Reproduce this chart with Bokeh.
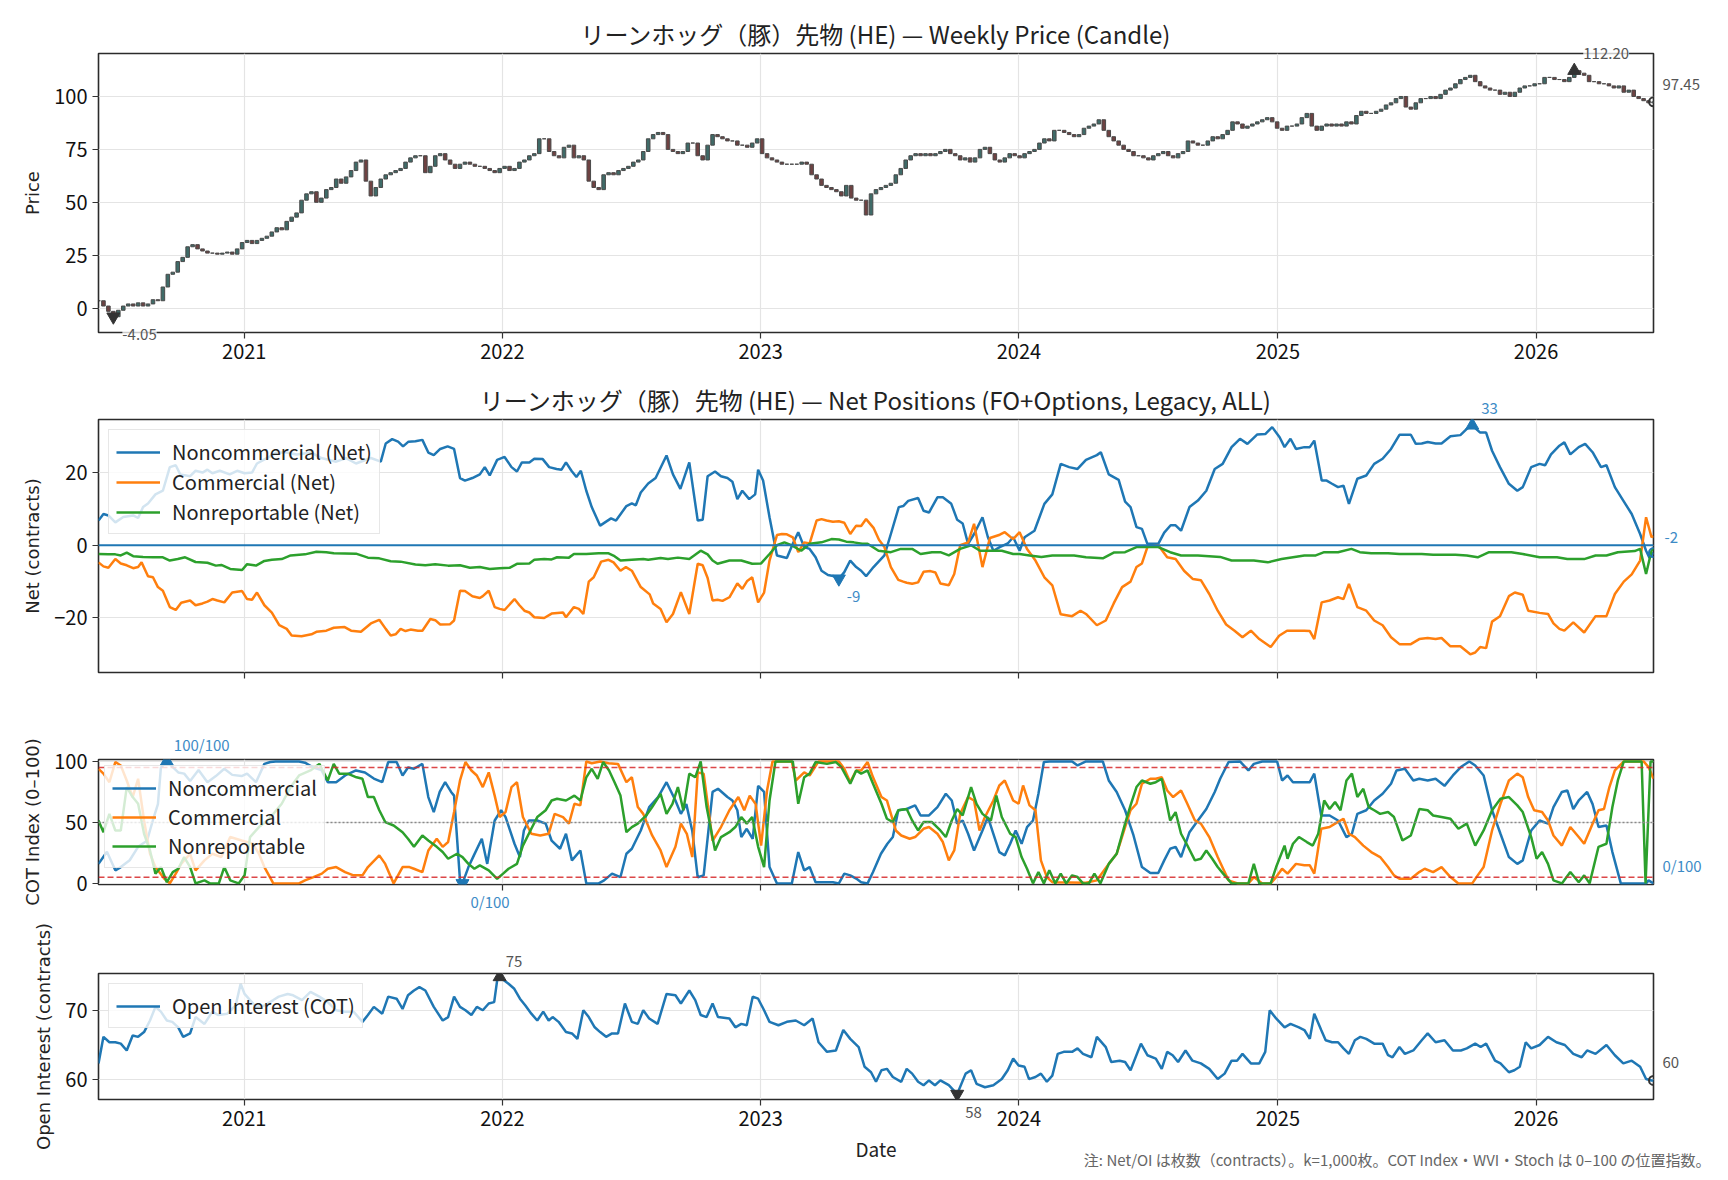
import datetime as dt
from bokeh.plotting import figure
from bokeh.layouts import column
from bokeh.models import (FixedTicker, DatetimeTickFormatter, Label, Legend, LegendItem,
                          Span, Range1d)
from bokeh.embed import file_html
from bokeh.resources import INLINE

# ---------------- data ----------------
START = dt.datetime(2020, 6, 9)          # week 0 (weekly data, Tuesdays)
N_WEEKS = 314
YEARS = [2021, 2022, 2023, 2024, 2025, 2026]

TITLE_PRICE = "リーンホッグ（豚）先物 (HE) — Weekly Price (Candle)"
TITLE_NET = "リーンホッグ（豚）先物 (HE) — Net Positions (FO+Options, Legacy, ALL)"
NOTE = "注: Net/OI は枚数（contracts）。k=1,000枚。COT Index・WVI・Stoch は 0–100 の位置指数。"

# weekly closes, week 0 .. 314
CLOSE = [
    3.5, 1.0, -1.5, -4.05, -1.0, 1.0, 2.0, 1.0, 2.5, 1.0,
    2.0, 4.0, 3.5, 10.0, 16.0, 17.0, 22.0, 24.0, 29.0, 30.0,
    28.0, 27.0, 26.0, 26.0, 25.5, 26.0, 26.5, 25.5, 28.0, 31.0,
    32.0, 30.5, 32.0, 33.0, 34.0, 36.0, 38.0, 37.0, 41.0, 43.0,
    45.0, 51.0, 54.0, 55.0, 50.0, 52.0, 56.0, 57.0, 61.0, 59.0,
    62.0, 65.0, 69.0, 70.0, 60.0, 53.0, 57.0, 61.0, 63.0, 64.0,
    65.0, 66.0, 69.0, 71.0, 72.0, 72.0, 64.0, 67.0, 72.0, 73.0,
    70.0, 68.0, 66.0, 68.0, 69.0, 68.0, 67.0, 67.0, 66.0, 65.0,
    64.0, 66.0, 67.0, 65.0, 66.0, 69.0, 70.0, 72.0, 73.0, 80.0,
    80.0, 74.0, 72.0, 71.0, 76.0, 77.0, 71.0, 72.0, 70.0, 60.0,
    57.0, 56.0, 63.0, 64.0, 63.0, 65.0, 66.0, 67.0, 69.0, 70.0,
    74.0, 80.0, 82.0, 83.0, 82.0, 75.0, 74.0, 73.0, 74.0, 78.0,
    78.0, 72.0, 70.0, 77.0, 82.0, 81.0, 80.0, 79.0, 79.0, 77.0,
    77.0, 76.0, 78.0, 80.0, 73.0, 71.0, 70.0, 69.0, 68.0, 68.0,
    68.0, 68.0, 69.0, 68.0, 63.0, 61.0, 58.0, 57.0, 56.0, 55.0,
    53.0, 58.0, 52.0, 51.0, 51.0, 44.0, 54.0, 56.0, 57.0, 58.0,
    59.0, 63.0, 66.0, 70.0, 72.0, 73.0, 72.0, 73.0, 72.0, 73.0,
    74.0, 75.0, 73.0, 72.0, 70.0, 71.0, 69.0, 71.0, 75.0, 76.0,
    73.0, 70.0, 69.0, 71.0, 73.0, 72.0, 71.0, 73.0, 74.0, 75.0,
    78.0, 80.0, 79.0, 84.0, 84.0, 83.0, 82.0, 81.0, 82.0, 85.0,
    86.0, 87.0, 89.0, 84.0, 81.0, 79.0, 77.0, 75.0, 74.0, 72.0,
    72.0, 71.0, 70.0, 72.0, 73.0, 74.0, 72.0, 71.0, 73.0, 74.0,
    79.0, 78.0, 77.0, 77.0, 79.0, 81.0, 80.0, 82.0, 84.0, 88.0,
    87.0, 85.0, 86.0, 87.0, 88.0, 89.0, 90.0, 88.0, 85.0, 84.0,
    86.0, 86.0, 87.0, 90.0, 92.0, 86.0, 84.0, 86.0, 87.0, 86.0,
    87.0, 86.0, 88.0, 87.0, 91.0, 93.0, 92.0, 92.0, 93.0, 94.0,
    96.0, 97.0, 99.0, 100.0, 95.0, 94.0, 97.0, 99.0, 99.0, 100.0,
    99.0, 101.0, 103.0, 104.0, 106.0, 108.0, 109.0, 110.0, 107.0, 105.0,
    104.0, 103.0, 103.0, 101.0, 102.0, 100.0, 102.0, 104.0, 105.0, 105.0,
    106.0, 106.0, 109.0, 109.0, 108.0, 108.0, 107.0, 109.0, 112.2, 111.0,
    110.0, 107.0, 107.0, 106.0, 106.0, 105.0, 104.0, 105.0, 102.0, 103.0,
    100.0, 99.0, 98.0, 97.0, 97.45,
]

# (week, value) points
NC_NET = [(0,6.8),(1,8.6),(2,8.2),(3.4,6.3),(5,7.8),(7,8.2),(8,7.5),(9,10.5),(10,11.5),(11.5,14),(13,15),
    (14.4,21.5),(15.6,22),(16.5,19.5),(18.5,19),(19.6,20.5),(21,20),(22,20.8),(23,19.8),(24.5,20.5),(26.5,19.5),
    (28,20.5),(29.5,19.8),(31,20),(32,22.5),(34,24),(36,25.5),(38,25.5),(40,25),(43,25.5),(45,24),(48,23),(50,24),
    (52,22.5),(55,24),(57,23),(58,28),(59.3,29.2),(60.5,28.5),(61.5,27.2),(62.6,28.5),(64,28.6),(65.4,29),(66.6,25.5),
    (67.7,24.8),(69,26.5),(70.5,27.2),(71.8,26.5),(73,18.5),(74,17.8),(75.5,18.5),(77,19.5),(78,21.5),(79,19.2),
    (80.5,23.5),(82,24.3),(83.4,21.5),(84.5,20.3),(85.5,22.8),(87,22.8),(88,23.8),(89.7,23.7),(91,21.5),(92.5,21),
    (93.5,20.8),(94.4,22.8),(95.5,20.5),(96.5,18.8),(97.4,20.5),(98.5,15),(99.6,10.5),(101.3,5.4),(102.5,6.5),
    (103.5,7.4),(104.5,6.8),(106.6,10.8),(107.7,11.5),(108.5,11),(109.5,14.5),(111,17),(112.5,18.5),(114.7,24.7),
    (116,19.5),(117.5,15.5),(119.3,22.8),(121,6.8),(122,7),(123,19),(124.5,20.3),(125.7,19),(127,18.5),(128,17.5),
    (129,12.7),(130,15),(131.4,12.7),(132.6,14),(133.2,20.8),(134.2,17.8),(135.5,7.7),(137,-2.8),(139,-3.5),
    (140.2,0.4),(141.3,3.6),(142.5,-0.5),(143.6,-1),(144.8,-3.3),(146,-7),(147.3,-8.2),(148.6,-8.5),(149.5,-9.2),
    (150.6,-7.4),(151.8,-4.2),(153,-6),(154,-7),(155,-8.5),(156.5,-6),(158.7,-2.8),(160,3.1),(161.6,10.5),
    (162.5,10.8),(163.5,12.2),(165.5,13),(166.6,9.5),(167.7,9),(169.4,13.2),(170.5,13.2),(172.2,11.4),(173.4,7),
    (174.5,6),(175.6,0.4),(176.8,3.1),(178.5,7.7),(179.6,2.2),(180.7,-1.5),(182,-0.5),(183.6,0.5),(184.7,2.2),
    (186,-1.5),(187,2.2),(189,4),(191,11.4),(192.6,14),(194.3,22.4),(196,21.5),(197.7,21),(199.4,23.5),(201.6,24.8),
    (202.4,25.6),(204,19.5),(206,18),(207.3,12),(208.4,10.5),(209.6,5),(210.7,4.5),(211.8,0.4),(214,0.4),(215.2,3.5),
    (216.5,5.5),(217.5,5.5),(218.6,4),(220.3,10.5),(222,12.3),(223.7,15),(225.4,21),(227,22.4),(228.8,27),
    (230.5,29.3),(232,27.9),(234,30.5),(235.6,30.6),(237,32.5),(238.5,29.7),(239.5,27),(240.7,29.3),(241.8,26.5),
    (243.5,27),(244.6,27),(245.5,28.8),(247,17.8),(248,17.8),(249,17),(250.3,16),(251.4,16.4),(252.5,11.4),
    (254.2,18.3),(256,19.2),(257.6,22.4),(259.3,23.8),(261,26.5),(262.7,30.4),(265,30.4),(266,27.9),(267.2,28),
    (268.4,28.4),(270,28),(271.2,28),(273,30),(275,30.3),(276.3,32),(277.4,33),(279,31),(280.2,31),(281.4,26),
    (283,21.5),(284.8,16.9),(286.5,15),(287.6,16),(289.3,21.5),(291,22.4),(292.1,22),(293.3,25),(295,27.4),
    (296,28.3),(297.2,25),(298.9,27),(300.2,27.9),(301.7,25.6),(303.4,21.5),(304.5,22),(306.2,16),(307.9,12.3),
    (309.6,8.6),(311.3,3.1),(312.5,-1.5),(313.2,-3.5),(314,-2)]

CM_NET = [(0,-4.7),(1,-5.8),(2,-6.2),(3.4,-3.8),(4.5,-5),(5.7,-5.5),(7,-6.3),(8,-6),(8.7,-4.7),(10,-8.5),(11,-8.8),
    (12,-11.5),(13,-12.5),(14.4,-17),(15.6,-17.8),(16.7,-15.8),(18.5,-15.2),(19.6,-16.5),(21,-16),(22,-15.5),
    (23,-14.8),(24,-15.2),(25.4,-15.7),(27,-13),(29,-12.6),(30,-14.8),(31,-15),(32,-13),(33.5,-16.5),(35,-18.5),
    (36.5,-22),(38,-23),(39,-24.8),(41,-25),(43,-24.5),(44,-23.8),(46,-23.5),(47.5,-22.7),(49.7,-22.5),(51,-23.5),
    (53,-23.8),(55,-21.5),(56.7,-20.5),(58,-23),(59,-24.8),(60,-24.5),(61,-23),(62,-23.6),(63,-23.2),(64.5,-23.5),
    (65.4,-23.5),(67,-20.3),(68,-20.6),(69,-21.8),(71,-21.7),(71.8,-20.7),(73,-12.5),(74,-12.6),(75.5,-14),
    (77,-14.5),(77.6,-14),(78.8,-12.5),(80,-17),(81,-17.5),(82,-17.8),(84,-14.8),(85,-16.5),(86,-18),(87,-18.5),
    (88,-19.8),(90,-20),(91.5,-18.8),(93.8,-18.5),(94.4,-19.8),(96,-17),(97,-17.5),(97.9,-18.9),(99,-10),(100,-8.8),
    (101.5,-4.5),(103,-4),(104,-4.7),(105.4,-7),(106.5,-6),(107.7,-7),(109.5,-11.5),(111.3,-13.5),(112,-16),
    (113.5,-17.5),(114.7,-21.2),(116,-18.9),(117.6,-12.9),(119.3,-18.9),(121,-5.1),(122,-5.5),(123,-9),(124,-15.2),
    (125,-15),(126,-15.3),(127.4,-14.3),(129,-10.5),(130,-12),(131,-9.8),(132,-8.8),(133.2,-15.7),(134.4,-13),
    (135.5,-4.2),(137,2.8),(138,3.1),(139,3),(140.2,2.2),(141.3,-1.9),(142.5,0.8),(143.6,0.5),(145,6.8),(146,7.2),
    (147,6.8),(148.3,6.5),(149.5,6.6),(150.6,6.2),(151.8,3.1),(153,5.4),(154,5.3),(155,7.2),(156.5,4.8),(157.6,1.5),
    (158.7,-0.5),(160,-6),(161.5,-9.5),(162.5,-10),(163.2,-10.3),(164.3,-10.6),(165.5,-10.2),(166.6,-7.3),(168,-7.1),
    (169,-7.5),(170,-10.5),(171.7,-11),(172.8,-7.9),(174,0),(175.6,0.8),(176.8,5.9),(177.5,1),(178.5,-6),(180,2),
    (182,2.9),(183,3.6),(184.7,1.7),(186,3.6),(187.5,-1),(189.2,-4.2),(191,-8.8),(192.6,-11),(194.3,-19),
    (196.6,-19.5),(198.3,-18),(199.4,-18.9),(201.6,-22),(203.4,-20.7),(205,-16),(206.7,-11.5),(208.4,-10),
    (209.6,-6),(210.7,-5),(211.8,-0.5),(214,0),(215.8,-3.3),(217.5,-3.8),(219.2,-7),(221,-9.3),(222.6,-9.6),
    (224.3,-13.4),(226,-18),(227.7,-21.8),(229.4,-23.5),(231,-25.3),(232.7,-23.5),(234.4,-25.8),(236.7,-28),
    (238.4,-24.9),(240,-23.5),(241.8,-23.5),(243.5,-23.5),(244.6,-23.6),(245.5,-25.8),(247,-15.7),(248.6,-15.2),
    (250.3,-14.3),(251.4,-14.8),(252.5,-10.6),(254.2,-17),(256,-18),(257.6,-20.7),(259.3,-22),(261,-25.3),
    (262.7,-27.2),(265,-27.2),(266.7,-25.8),(268.4,-25.5),(270,-25.8),(271.2,-25.5),(273,-27.8),(275,-27.8),
    (277,-30),(278,-29.5),(279,-28),(280.2,-28.3),(281.4,-21),(283,-19.5),(284.8,-14),(286,-13),(287.6,-13.6),
    (288.7,-18),(291,-18.6),(292.7,-18.9),(293.8,-21.5),(295,-23),(296,-23.5),(297.8,-21.2),(300,-24),(302.3,-19.5),
    (304.5,-19.5),(306.2,-13.4),(308,-10),(309.6,-8),(311.3,-4.2),(312.5,7.7),(313.6,2.2),(314,2.5)]

NR_NET = [(0,-2.4),(2,-2.5),(3.4,-2.5),(4.5,-2.8),(5.7,-2),(7,-3),(9,-3.2),(11,-3.3),(13,-3.3),(14.4,-4.2),(16,-3.8),
    (17.5,-3.3),(19.6,-4.6),(22,-4.8),(23.7,-5.6),(24.8,-5.4),(26.6,-6.5),(29,-6.8),(30,-5.2),(31.8,-5.6),(33.5,-4.3),
    (35,-4),(37,-3.8),(38.8,-2.8),(41.7,-2.5),(44,-1.8),(46,-1.9),(47.5,-2.2),(52,-2.3),(54.4,-3.4),(56.7,-3.6),
    (59,-4.4),(61,-4.5),(64,-5.3),(66,-5.5),(68,-5.2),(70.6,-5.6),(73,-5.5),(75,-6.2),(77,-6),(79,-6.5),(81,-6.3),
    (83,-6.2),(84.5,-5.1),(87,-5),(88,-4),(90,-3.8),(91.5,-3.9),(92.6,-3.3),(95,-3.4),(96,-2.4),(98.5,-2.4),
    (101,-2.2),(103,-2.2),(104.2,-3),(105.4,-4.2),(107.7,-4),(110,-3.8),(111,-4),(113.5,-3.5),(115,-3.8),(117,-3.4),
    (119.3,-3.8),(121.6,-1.5),(123,-2.5),(124,-4.2),(125,-5.1),(127.4,-4.2),(129.8,-4.2),(132,-5.1),(133.8,-5),
    (135.5,-2.4),(137,0),(138.5,0.8),(139.9,0),(141.9,-1.5),(143.6,0.4),(146,0.8),(148,1.7),(149.5,1.6),(151,1),
    (152.5,0.8),(154.2,0.4),(155.3,0.4),(157.5,-1.5),(160,-1.9),(162,-1),(164.3,-1),(166,-2.4),(168.3,-1.9),
    (170,-1.9),(171.7,-2.8),(174,-1),(176.2,0),(178,-1.5),(180.2,-1.5),(182.4,-1.5),(184.7,-2.4),(186,-2.4),
    (188,-2.8),(190.4,-3.2),(192.6,-2.8),(197,-2.8),(199.4,-3.3),(202.8,-3.6),(205,-2),(207.3,-1.9),(209.6,-0.5),
    (214,-0.5),(216.4,-1.9),(218.6,-2.8),(222,-2.8),(226.5,-3.2),(228.8,-4.2),(233.3,-4.2),(236.1,-4.7),
    (238.9,-3.8),(241.2,-3.3),(243.5,-2.8),(245.8,-2.8),(247.5,-1.9),(250.3,-1.9),(253,-1),(254.7,-1.9),(257,-2.2),
    (260.4,-2.2),(262.7,-2.4),(267.2,-2.4),(269.5,-2.6),(274,-2.6),(276.3,-2.8),(278.5,-3.3),(280.8,-1.9),
    (285.3,-1.9),(287.6,-2.4),(291,-3.3),(294.5,-3.3),(296.6,-3.8),(300,-3.8),(302.3,-2.8),(304.5,-2.8),
    (306.8,-1.9),(310.2,-1.6),(311.3,-1),(312.5,-7.9),(313.6,-1.5),(314,-0.8)]

NC_IDX = [(0,16),(1.7,26),(3.4,10.7),(4.5,13.4),(6.3,19),(8,30),(9.8,35),(11,52),(12,65),(12.6,95),(13.8,100),
    (16.1,91),(17.3,90),(18.5,84),(20.2,93),(22,83),(23.7,88),(25.4,94),(27,89),(28.9,88),(30,90),(31.8,83),(33.5,98),
    (34.7,99.5),(35.8,100),(40.5,100),(41.7,99),(43.4,95),(45,93),(46.3,83),(48,83),(49.8,88.5),(52,92.6),(53.8,91),
    (55.6,86),(57.3,83),(58.5,99.5),(60.2,99.5),(61.4,88.5),(62.5,95),(63.7,94),(65.4,98),(66.6,70.8),(67.7,58.5),
    (68.9,75),(70,83),(71.2,75),(71.8,72),(73,2.5),(73.5,0),(74.7,13.4),(75.8,23),(77.4,36.6),(78.5,16),(80,51.6),
    (81.3,60),(82.2,54.4),(84,32.5),(85.1,21.6),(85.9,43.4),(86.9,51.6),(88.6,51.6),(90.3,49),(91.5,35),(93.2,28.4),
    (94.4,40.7),(95.6,18.9),(97.3,27),(98.5,0),(101,0),(102.1,2.5),(103.7,8),(105.4,5.2),(106.6,24.3),(107.7,28.4),
    (109.5,43.4),(111.2,62.6),(113,70.8),(114.7,83),(116.5,68),(117.6,57),(118.7,65),(119.9,43),(121,5),(122.2,6.6),
    (124,75),(125.1,77.6),(127,70.8),(128,68),(129,60),(129.8,38),(130.9,44.8),(132.1,36.6),(133.2,80),(134.4,75),
    (135.5,13.4),(137,0),(140,0),(141.3,25.7),(142.5,10.7),(143.6,13.4),(144.8,1),(148.3,1),(149.5,0),(150.6,8),
    (151.8,6.6),(153,4),(154,1),(155.3,0),(156.4,9.3),(158,24.3),(159.3,32.5),(160.4,38),(161.5,60),(163.2,61),
    (164.9,64),(166,55.7),(167.7,55.7),(169.4,62.6),(171.1,73.5),(172.3,68),(173.4,49),(174.5,51.6),(175.6,40.7),
    (176.8,27),(178.5,43.4),(179.6,54.4),(180.7,40.7),(181.9,25.7),(183,23),(184.1,32.5),(185.2,43.4),(186.4,32.5),
    (187.5,46.2),(188.7,51.6),(189.8,73.5),(190.9,99.5),(192,100),(196.6,100),(197.7,96.7),(199.4,100),(202.8,100),
    (204,84.4),(205.6,75),(207.3,60),(209,39.3),(210.7,13.4),(212.4,8.5),(214,8.5),(215.2,18.9),(216.4,28.4),
    (217.5,30),(218.6,21.6),(220.3,42),(222,51.6),(223.7,61),(225.4,75),(226.5,85.8),(228.2,99.5),(230.5,100),
    (232.2,92.6),(233.3,98),(235,100),(238,100),(239,84.4),(240.1,88.5),(241.2,83),(243.5,83),(244.6,83),(245.5,90),
    (246.9,55.7),(248.6,55.7),(250.3,51.6),(252,38),(253.1,40.7),(254.2,57),(256,60),(257.6,68),(259.3,73.5),
    (261,81.7),(262.1,92.6),(263.8,94),(265.5,84.4),(266.7,85.8),(268.4,84.4),(270,85.8),(271.8,80),(273.5,88.5),
    (275.1,95.4),(276.8,100),(278,96.7),(279.7,88.5),(281.4,60),(283.1,40.7),(284.8,21.6),(286.5,16),(287.6,18.9),
    (289.3,43.4),(291,51.6),(292.7,49),(293.8,62.6),(295.5,75),(296.6,76.2),(297.8,61),(298.9,68),(300.6,75),
    (301.7,65),(302.9,46.2),(304.5,47.5),(305.7,25.7),(307.4,0),(312.5,0),(313,2.5),(314,0)]

CM_IDX = [(0,94),(1,90),(2.2,83),(3.4,99.5),(4.5,96.7),(5.7,84.4),(6.9,70.8),(8,85.8),(9.2,51.6),(10.4,24.3),
    (11.5,13.4),(13.3,3.8),(14.4,0),(15.6,8),(16.7,16),(18.5,24.3),(19.6,10.7),(21.4,18.9),(23,24.3),(24.8,21.6),
    (26.6,38),(28.9,35.2),(31.2,32.5),(32.4,24.3),(33.5,13.4),(35.3,0),(40.5,0),(41.7,2.5),(43.4,5.2),(45.1,8),
    (46.3,12),(48,13.4),(49.8,9.3),(51.5,6.6),(53.3,6.6),(54.4,13.4),(56.7,23),(57.9,16),(59.6,0),(61.4,13.4),
    (62.8,13.4),(63.7,12),(65.4,9.3),(66.6,27),(68.3,36.6),(69.5,30),(70.6,33.9),(71.8,58.5),(73,84.4),(74.1,99.5),
    (75.3,92.6),(76.4,88.5),(77.6,79),(78.8,91),(80,72),(81,54.4),(82.2,58.5),(83.4,79),(84.5,83),(85.7,54.4),
    (87.4,40.7),(89.2,39.3),(90.9,40.7),(92.1,57),(93.8,54.4),(95,49),(96.1,65.3),(97.3,64),(98.5,100),(99.6,98.5),
    (101.3,100),(103,98.5),(104.9,98),(106.6,83),(107.7,87),(108.9,62.6),(110,57),(111.8,39.3),(113.5,27),
    (114.7,13.4),(116.5,30),(117.6,49),(118.8,40.7),(119.9,21.6),(121,91),(122.2,90),(124,35),(125.7,46.2),
    (127.4,60),(129.2,70.8),(130.4,60),(131.5,72),(132.7,65),(133.8,31),(135,76.2),(136.1,100),(140,100),
    (140.8,84.4),(142.5,91),(143.6,88.5),(145.4,100),(149.5,100),(150.6,94),(151.8,83),(153,92.6),(154,92.6),
    (155.3,99.5),(156.4,87),(158.1,70.8),(159.2,68),(161,43.4),(162.1,39.3),(163.8,36.6),(164.9,38),(166.6,44.8),
    (167.7,46.2),(169.4,40.7),(170.5,33.9),(171.7,18.9),(172.8,27),(174,57),(175.6,70.8),(176.8,68),(177.9,43.4),
    (179,54.4),(180.7,68),(181.9,80.3),(183,84.4),(184.7,68),(185.8,65.3),(186.7,80.3),(188,64),(189.2,60),
    (190.3,18.9),(191.5,5.2),(192.6,1),(199.4,0.5),(201.6,2.5),(204,16),(205.6,24.3),(207.3,46.2),(208.4,60),
    (209.6,65.3),(210.7,81.7),(212.4,85.8),(213.5,85.8),(214.7,87),(215.8,76.2),(217,70.8),(218.6,76.2),
    (219.7,66.7),(221.4,51.6),(222.6,49),(224.3,38),(226,21.6),(227.1,12),(228.2,2.5),(230,0),(232.2,0),(233.3,5.2),
    (235,0),(236.7,0),(237.8,5.2),(239,12),(240.1,8),(241.8,16),(243.5,14.8),(244.6,14.8),(245.5,8),(246.9,44.8),
    (248.6,46.2),(249.7,49),(251.4,53),(252.5,40.7),(253.7,38),(255.4,31),(257,25.7),(258.8,21.6),(260.4,13.4),
    (261.6,6.6),(262.7,3.8),(265,3.8),(266.7,9.3),(267.8,12),(269.5,9.3),(271.2,13.4),(273,5.2),(274.6,0),
    (277.4,0),(278.5,6.6),(279.7,13.4),(281.4,43.4),(283.1,65.3),(284.8,84.4),(286.5,90),(287.6,87),(288.7,70.8),
    (289.9,60),(291.5,58.5),(292.7,51.6),(293.8,39.3),(295.5,31),(297.2,46.2),(298.9,38),(300,32.5),(301.7,49),
    (302.9,60),(304,61),(305.1,79),(306.2,92.6),(308,100),(312,100),(313,95.4),(314,85.8)]

NR_IDX = [(0,51.6),(1,42),(2.2,57),(3.4,43.4),(4.5,43.4),(5.7,79),(6.9,70.8),(8,65.3),(9.2,40.7),(10.4,27),(11.5,8),
    (12.6,13.4),(13.8,1),(15,9.3),(16.1,12),(17.3,21.6),(18.5,13.4),(19.6,0),(21.4,2.5),(22.5,0),(24.3,0),(25.4,13.4),
    (26.6,2.5),(28.3,0),(29.5,6.6),(30.6,38),(32.4,46.2),(34.1,51.6),(35.3,57),(37,65.3),(38.8,79),(40.5,88.5),
    (42.8,92.6),(44.6,98),(46.3,84.4),(47.5,98),(48.6,90),(50.3,90),(52.1,87),(53.3,85.8),(54.4,70.8),(55.6,70.8),
    (56.7,60),(57.9,50.3),(59.6,47.5),(61.4,42),(62.5,36.6),(63.7,30),(65.4,39.3),(66.6,35.2),(68.3,30),(69.5,25.7),
    (70.6,20.2),(72.4,24.3),(73.5,21.6),(74.7,16),(75.9,12),(77,14.8),(78.8,10.7),(80.5,3.8),(81.7,8),(82.8,12),
    (84.5,16),(85.7,31),(87.4,44.8),(88.6,54.4),(90.3,60),(91.5,68),(92.6,69.4),(94.4,68),(96.1,72),(97.3,68),
    (98.5,87),(99.6,94),(100.8,85.8),(101.9,99.5),(103.1,92.6),(104.2,83),(105.4,72),(106.6,42),(107.7,46.2),
    (108.9,49),(110.6,55.7),(111.8,62.6),(113.5,73.5),(114.7,57),(115.9,65.3),(117,79),(118.1,60),(119.3,90),
    (120.5,87),(121.6,100),(122.8,62.6),(124.5,27),(125.7,38),(127.4,42),(128.6,46.2),(129.8,54.4),(130.9,49),
    (132,54.4),(133.2,30),(134.4,13.4),(135.5,68),(136.7,100),(140.2,100),(141.3,65.3),(142.5,87),(143.6,90),
    (144.8,99.5),(147.1,98),(148.9,99.5),(150,95.4),(151.8,81.7),(153,92.6),(154,90),(155.3,92.6),(156.4,81.7),
    (158.1,65.3),(159.2,53),(160.4,50.3),(161.5,60),(163.2,61),(164.3,51.6),(165.5,43.4),(166.6,50.3),(168.3,50.3),
    (170,43.4),(171.1,38),(172.3,51.6),(173.4,61),(174.5,55.7),(176.2,79),(177.3,65.3),(178.5,57),(180.2,51.6),
    (181.3,72),(182.4,54.4),(184.1,40.7),(185.2,38),(186.4,21.6),(187.5,12),(188.7,0),(189.8,9.3),(190.9,0),
    (192,10.7),(193.2,0),(194.3,8),(195.4,0),(196.6,6.6),(197.7,5.2),(198.8,0),(200,0),(201.1,8),(202.3,0),(204,16),
    (205.6,24.3),(207.3,49),(208.4,64),(209.6,79),(210.7,84.4),(212.4,81.7),(213.5,83),(214.7,85.8),(216.4,51.6),
    (217.5,58.5),(218.6,40.7),(219.7,32.5),(221.4,18.9),(222.6,20.2),(223.7,27),(224.9,20.2),(226,13.4),(227.1,8),
    (228.8,0),(232.2,0),(233.3,16),(234.4,0),(236.7,0),(237.8,13.4),(239.5,31),(240.1,20.2),(241.2,32.5),
    (242.4,38),(244,33.9),(245.2,31),(246.3,40.7),(247.5,68),(248.6,61),(249.7,66.7),(250.8,60),(252,84.4),
    (253.1,90),(254.2,70.8),(255.4,77.6),(256.5,62.6),(257.6,60),(258.8,57),(260.4,58.5),(261.6,54.4),(263.3,35.2),
    (265,39.3),(266.7,61),(268.4,60),(269.5,55.7),(271.2,54.4),(273,53),(274.6,44.8),(276.3,49),(278,31),
    (279.7,43.4),(281.4,60),(283.1,69.4),(284.8,70.8),(286.5,64),(287.6,58.5),(289.3,38),(290.4,20.2),(291.5,25.7),
    (292.7,16),(293.8,2.5),(295.5,0),(297.2,9.3),(298.9,1),(300,6.6),(301.1,0),(302.9,30),(304.5,32.5),(305.7,62.6),
    (306.8,84.4),(308,100),(311.6,100),(312.4,0),(313.4,100),(314,100)]

OI = [(0,62.3),(1,66.2),(2.2,65.4),(3.4,65.4),(4.5,65.2),(5.7,64.2),(6.9,66.4),(8,66.2),(9.2,66.9),(10.4,68.6),
    (11.5,70.6),(12.6,69.9),(13.8,68.6),(14.9,68.4),(16.1,67.6),(17.1,66.2),(18.5,66.7),(19.6,69.1),(21.4,68.1),
    (23,69.9),(24.2,69.4),(26,69.6),(27.7,70.8),(28.7,74),(29.5,72.5),(30.6,71.6),(31.8,70.6),(33.5,70.8),
    (35.3,71.6),(36.4,72.1),(38.2,72.5),(39.3,72.3),(41.1,71.6),(42.8,72.8),(44.6,72.1),(46.3,71.3),(48,70.1),
    (49.8,69.9),(51.5,69.9),(53.3,68.4),(54.4,69.4),(55.6,70.6),(57.3,69.6),(58.5,72.1),(60.2,71.8),(61.4,70.3),
    (62.5,72.3),(63.7,73),(64.8,73.5),(66,73),(67.7,70.6),(69.5,68.6),(70.6,69.1),(71.8,72.1),(73,70.6),(74.1,70.1),
    (75.3,69.4),(76.4,70.6),(77.6,70.1),(78.8,71.1),(79.9,71.3),(80.5,74.5),(81,75),(82.8,74),(83.9,73.3),
    (85.1,71.8),(86.2,70.8),(87.4,69.6),(88.6,68.6),(89.8,69.9),(90.9,68.6),(91.7,69.1),(92.9,68.4),(94.4,66.9),
    (95.6,66.7),(96.7,65.9),(97.9,70.1),(99,69.1),(100.2,67.6),(101.3,66.9),(102.5,66.2),(103.7,66.7),(104.9,66.7),
    (106.3,71.1),(107.7,68.4),(108.9,68.1),(110,70.1),(111.2,68.9),(112.9,68.1),(114.7,72.5),(116.5,72.3),
    (117.6,71.1),(119.3,73),(120.5,71.6),(121.6,69.4),(122.8,69.1),(124,71.1),(125.1,69.1),(127.4,68.9),(128.6,67.6),
    (129.8,68.1),(130.9,67.9),(132.1,72.1),(133.2,71.8),(134.4,70.1),(135.5,68.4),(137.3,67.9),(139,68.4),
    (140.8,68.6),(142.5,67.9),(144.2,68.9),(145.4,65.4),(147.1,64),(148.9,64.2),(150.4,67.2),(151.8,65.9),
    (153.5,64.7),(154.7,61.8),(156,61),(157,59.6),(158.1,61.3),(159.2,61.5),(160.4,60.3),(162.1,59.6),(163.2,61.5),
    (164.3,60.8),(165.5,59.6),(166.6,59.1),(167.7,59.8),(168.9,59.1),(170,59.8),(171.7,59.1),(173.4,57.8),
    (175.1,60.8),(176.2,61.3),(177.3,59.3),(179,58.8),(180.7,59.1),(182.4,60),(183.6,61.3),(184.7,63),(185.8,62),
    (187,61.8),(187.9,60),(189.2,60.3),(190.3,60.8),(191.5,59.6),(192.6,60.5),(193.7,63.7),(194.9,64),(196.6,64),
    (197.7,64.5),(198.8,63.7),(200.5,63.2),(201.6,66.2),(203.4,64.7),(204.5,62.5),(206.2,62.7),(207.3,62.5),
    (208.4,61.3),(210.5,65.2),(211.8,63.5),(213.5,63),(214.7,61.5),(215.8,64),(216.9,63.5),(218,62.5),(219.5,64.2),
    (220.9,62.7),(222.6,62.3),(224.3,61.5),(226,60),(227.4,60.8),(228.8,62.7),(229.9,62.7),(231,63.7),(232.7,62.3),
    (234.4,62.3),(235.6,64),(236.5,70.1),(237.8,68.9),(239.5,67.6),(240.7,68.1),(242.4,67.6),(243.5,67.2),
    (244.6,65.9),(245.5,69.6),(246.9,67.2),(247.8,65.7),(249.1,65.4),(250.3,65.4),(251.4,64.5),(252.5,63.7),
    (253.7,65.7),(254.8,66.2),(256,65.9),(257.6,65.2),(259.3,65.2),(260.4,63.5),(261.3,63.2),(262.7,64.7),
    (263.8,63.7),(265.5,64.2),(267.2,65.7),(268.4,66.7),(270,65.4),(271.8,65.7),(273.5,64.2),(275.1,64.2),
    (276.3,64.5),(278,65.2),(279.1,64.7),(280.2,65.2),(282,62.7),(283.1,62.3),(284.8,61),(285.9,61.3),(287,61.8),
    (288.2,65.4),(289.3,64.5),(291,65),(292.7,66.2),(294.4,65.4),(296.1,65),(297.8,63.7),(299.5,63.2),(300.6,64.2),
    (302.3,63.7),(304.5,65),(306.2,63.5),(307.9,62.3),(309.6,62.7),(311.3,61.8),(312.5,60),(313.6,59.8),(314,59.8)]

# ---------------- styling ----------------
FONT = "Noto Sans CJK JP"
LABEL_FONT = "DejaVu Sans"
BLUE, ORANGE, GREEN = "#1f77b4", "#ff7f0e", "#2ca02c"
DARK = "#333333"
NOTE_BLUE = "#3d8bc6"
EPOCH = dt.datetime(1970, 1, 1)
LW = 2.5
W, H = 1728, 1180


def wk(w):
    return START + dt.timedelta(days=7 * w)


def ms(d):
    return (d - EPOCH).total_seconds() * 1000.0


X0, X1 = wk(0), wk(N_WEEKS)
YEAR_TICKS = [ms(dt.datetime(y, 1, 1)) for y in YEARS]


def make_fig(ftop, fbot, yr, yticks, ylabel, show_xlabels, title=None, first=False):
    # every panel is a full-page transparent canvas; the frame is placed by its borders,
    # and the panels are stacked on top of each other
    p = figure(width=W, height=H, x_axis_type="datetime", output_backend="svg",
               toolbar_location=None, x_range=Range1d(X0, X1), y_range=Range1d(*yr),
               min_border_left=98, min_border_right=75, min_border_top=ftop,
               min_border_bottom=H - fbot, background_fill_color="white",
               border_fill_color="white", border_fill_alpha=1.0 if first else 0.0)
    if not first:
        p.margin = (-H, 0, 0, 0)
    if title:
        p.title.text = title
        p.title.align = "center"
        p.title.text_font = FONT
        p.title.text_font_size = "24px"
        p.title.text_font_style = "normal"
        p.title.text_color = "#222222"
        p.title.standoff = 6
    p.outline_line_color = "#2b2b2b"
    p.outline_line_width = 1.6
    p.xaxis.ticker = FixedTicker(ticks=YEAR_TICKS)
    p.xaxis.formatter = DatetimeTickFormatter(years="%Y", months="%Y", days="%Y", hours="%Y")
    p.yaxis.ticker = FixedTicker(ticks=yticks)
    for ax in (p.xaxis, p.yaxis):
        ax.axis_line_color = None
        ax.major_tick_line_color = DARK
        ax.major_tick_line_width = 1.2
        ax.major_tick_out = 6
        ax.major_tick_in = 0
        ax.minor_tick_line_color = None
        ax.major_label_text_font = FONT
        ax.major_label_text_font_size = "20px"
        ax.major_label_text_color = "#111111"
    if not show_xlabels:
        p.xaxis.major_label_text_alpha = 0
        p.xaxis.major_label_text_font_size = "1px"
    p.yaxis.axis_label = ylabel
    p.yaxis.axis_label_text_font = LABEL_FONT
    p.yaxis.axis_label_text_font_size = "18px"
    p.yaxis.axis_label_text_font_style = "normal"
    p.yaxis.axis_label_text_color = "#222222"
    p.yaxis.axis_label_standoff = 8
    p.grid.grid_line_color = "#e4e4e4"
    p.grid.grid_line_width = 1.2
    return p


def tag(p, x, y, text, dx, dy, color, bg=True, place="below", align="left", size="15px"):
    # placed in a side panel so the text is not clipped to the plot frame;
    # position is given in data units so the panel slot does not matter
    lab = Label(x=x, y=y, text=text, x_offset=dx, y_offset=dy,
                text_font=FONT, text_font_size=size, text_color=color,
                text_baseline="middle", text_align=align,
                background_fill_color="white" if bg else None,
                background_fill_alpha=0.75)
    p.add_layout(lab, place)


def line_of(p, pts, color):
    return p.line([wk(w) for w, _ in pts], [v for _, v in pts], line_color=color, line_width=LW)


def style_legend(leg, spacing, margin=10):
    leg.location = "top_left"
    leg.label_text_font = FONT
    leg.label_text_font_size = "20px"
    leg.label_text_color = "#222222"
    leg.glyph_width = 44
    leg.glyph_height = 20
    leg.label_height = 20
    leg.label_standoff = 12
    leg.spacing = spacing
    leg.padding = 7
    leg.margin = margin
    leg.border_line_color = "#cfcfcf"
    leg.border_line_width = 1.2
    leg.background_fill_alpha = 0.8


# ---------------- panel 1: candles ----------------
p1 = make_fig(53, 332, (-11.5, 120.3), [0, 25, 50, 75, 100], "Price", True, TITLE_PRICE, first=True)
opens = [CLOSE[0]] + CLOSE[:-1]
dates = [wk(i) for i in range(len(CLOSE))]
tops = [max(o, c) for o, c in zip(opens, CLOSE)]
bots = [min(o, c) for o, c in zip(opens, CLOSE)]
fills = ["#3f6b68" if c >= o else "#6e4242" for o, c in zip(opens, CLOSE)]
p1.vbar(x=dates, top=tops, bottom=bots, width=0.72 * 7 * 86400000, fill_color=fills,
        line_color="#4a4a4a", line_width=1)
imin = CLOSE.index(min(CLOSE))
imax = CLOSE.index(max(CLOSE))
ilast = len(CLOSE) - 1
p1.scatter([wk(imin)], [CLOSE[imin]], marker="inverted_triangle", size=13, color=DARK)
p1.scatter([wk(imax)], [CLOSE[imax]], marker="triangle", size=13, color=DARK)
p1.scatter([wk(ilast)], [CLOSE[ilast]], marker="circle", size=9, fill_color=None,
           line_color=DARK, line_width=2)
tag(p1, ms(wk(imin)), CLOSE[imin], f"{CLOSE[imin]:.2f}", 9, -18, "#555555")
tag(p1, ms(wk(imax)), CLOSE[imax], f"{CLOSE[imax]:.2f}", 9, 17, "#555555")
tag(p1, ms(wk(ilast)), CLOSE[ilast], f"{CLOSE[ilast]:.2f}", 9, 17, "#555555", bg=False)

# ---------------- panel 2: net positions ----------------
p2 = make_fig(419, 672, (-35.0, 34.6), [-20, 0, 20], "Net (contracts)", False, TITLE_NET)
r_nc = line_of(p2, NC_NET, BLUE)
r_cm = line_of(p2, CM_NET, ORANGE)
r_nr = line_of(p2, NR_NET, GREEN)
p2.add_layout(Span(location=0, dimension="width", line_color=BLUE, line_width=2))
leg2 = Legend(items=[LegendItem(label="Noncommercial (Net)", renderers=[r_nc]),
                     LegendItem(label="Commercial (Net)", renderers=[r_cm]),
                     LegendItem(label="Nonreportable (Net)", renderers=[r_nr])])
style_legend(leg2, 1)
p2.add_layout(leg2)
nc_max = max(NC_NET, key=lambda t: t[1])
nc_min = min(NC_NET, key=lambda t: t[1])
nc_last = NC_NET[-1]
p2.scatter([wk(nc_max[0])], [nc_max[1]], marker="triangle", size=13, color=BLUE)
p2.scatter([wk(nc_min[0])], [nc_min[1]], marker="inverted_triangle", size=13, color=BLUE)
p2.scatter([wk(nc_last[0])], [nc_last[1]], marker="circle", size=9, fill_color=None,
           line_color=BLUE, line_width=2)
tag(p2, ms(wk(nc_max[0])), nc_max[1], f"{round(nc_max[1])}", 9, 17, NOTE_BLUE)
tag(p2, ms(wk(nc_min[0])), nc_min[1], f"{round(nc_min[1])}", 8, -18, NOTE_BLUE)
tag(p2, ms(wk(nc_last[0])), nc_last[1], f"{round(nc_last[1])}", 11, 15, NOTE_BLUE, bg=False)

# ---------------- panel 3: COT index ----------------
p3 = make_fig(759, 884, (-0.9, 101.6), [0, 50, 100], "COT Index (0–100)", False)
r_nci = line_of(p3, NC_IDX, BLUE)
r_cmi = line_of(p3, CM_IDX, ORANGE)
r_nri = line_of(p3, NR_IDX, GREEN)
for lv in (95, 5):
    p3.add_layout(Span(location=lv, dimension="width", line_color="#d62728", line_alpha=0.85,
                       line_width=1.6, line_dash="6 3"))
p3.add_layout(Span(location=50, dimension="width", line_color="#8a8a8a", line_width=1.5,
                   line_dash="2 2"))
leg3 = Legend(items=[LegendItem(label="Noncommercial", renderers=[r_nci]),
                     LegendItem(label="Commercial", renderers=[r_cmi]),
                     LegendItem(label="Nonreportable", renderers=[r_nri])])
style_legend(leg3, 0, margin=6)
p3.add_layout(leg3)
ci_max = max(NC_IDX, key=lambda t: t[1])
ci_min = min(NC_IDX, key=lambda t: t[1])
ci_last = NC_IDX[-1]
p3.scatter([wk(ci_max[0])], [ci_max[1]], marker="triangle", size=13, color=BLUE)
p3.scatter([wk(ci_min[0])], [ci_min[1]], marker="inverted_triangle", size=13, color=BLUE)
tag(p3, ms(wk(ci_max[0])), ci_max[1], f"{round(ci_max[1])}/100", 7, 17, NOTE_BLUE, bg=False)
tag(p3, ms(wk(ci_min[0])), ci_min[1], f"{round(ci_min[1])}/100", 8, -18, NOTE_BLUE, bg=False)
tag(p3, ms(wk(ci_last[0])), ci_last[1], f"{round(ci_last[1])}/100", 9, 18, NOTE_BLUE, bg=False)

# ---------------- panel 4: open interest ----------------
OI_RANGE = (57.0, 75.5)
p4 = make_fig(973, 1099, OI_RANGE, [60, 70], "Open Interest (contracts)", True)
r_oi = line_of(p4, OI, BLUE)
p4.xaxis.axis_label = "Date"
p4.xaxis.axis_label_text_font = FONT
p4.xaxis.axis_label_text_font_size = "19px"
p4.xaxis.axis_label_text_font_style = "normal"
p4.xaxis.axis_label_text_color = "#222222"
p4.xaxis.axis_label_standoff = 6
leg4 = Legend(items=[LegendItem(label="Open Interest (COT)", renderers=[r_oi])])
style_legend(leg4, 1)
p4.add_layout(leg4)
oi_max = max(OI, key=lambda t: t[1])
oi_min = min(OI, key=lambda t: t[1])
oi_last = OI[-1]
p4.scatter([wk(oi_max[0])], [oi_max[1]], marker="triangle", size=13, color=DARK)
p4.scatter([wk(oi_min[0])], [oi_min[1]], marker="inverted_triangle", size=13, color=DARK)
p4.scatter([wk(oi_last[0])], [oi_last[1]], marker="circle", size=9, fill_color=None,
           line_color=DARK, line_width=2)
tag(p4, ms(wk(oi_max[0])), oi_max[1], f"{round(oi_max[1])}", 6, 15, "#555555", place="above")
tag(p4, ms(wk(oi_min[0])), oi_min[1], f"{round(oi_min[1])}", 8, -18, "#555555", place="above")
tag(p4, ms(wk(oi_last[0])), oi_last[1], f"{round(oi_last[1])}", 9, 18, "#555555", bg=False,
    place="above")
# figure note, anchored to the bottom-right corner of the last panel's frame
tag(p4, ms(X1), OI_RANGE[0], NOTE, 57, -60, "#666666", bg=False, place="above",
    align="right", size="15px")

layout = column(p1, p2, p3, p4, spacing=0)
with open("out.html", "w") as f:
    f.write(file_html(layout, INLINE))
